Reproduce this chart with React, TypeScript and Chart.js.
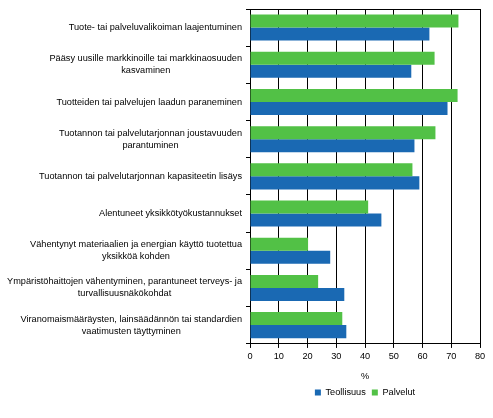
import React, { useEffect, useRef } from "react";
import { Chart, registerables } from "chart.js";

Chart.register(...registerables);

const categories: (string | string[])[] = [
  "Tuote- tai palveluvalikoiman laajentuminen",
  ["Pääsy uusille markkinoille tai markkinaosuuden", "kasvaminen"],
  "Tuotteiden tai palvelujen laadun paraneminen",
  ["Tuotannon tai palvelutarjonnan joustavuuden", "parantuminen"],
  "Tuotannon tai palvelutarjonnan kapasiteetin lisäys",
  "Alentuneet yksikkötyökustannukset",
  ["Vähentynyt materiaalien ja energian käyttö tuotettua", "yksikköä kohden"],
  ["Ympäristöhaittojen vähentyminen, parantuneet terveys- ja", "turvallisuusnäkökohdat"],
  ["Viranomaismääräysten, lainsäädännön tai standardien", "vaatimusten täyttyminen"],
];

const teollisuus = [62.4, 56.1, 68.7, 57.2, 58.9, 45.7, 27.9, 32.8, 33.5];
const palvelut = [72.5, 64.2, 72.2, 64.5, 56.5, 41.1, 20.2, 23.7, 32.1];

const seriesNames = ["Teollisuus", "Palvelut"];
const xTitle = "%";

const FF = '"Liberation Sans", Arial, sans-serif';
const FS = 9.2;
const LH = 12;

const gridPlugin = {
  id: "blackGrid",
  beforeDatasetsDraw(chart: any) {
    const x = chart.scales.x;
    const y = chart.scales.y;
    const a = chart.chartArea;
    const ctx = chart.ctx;
    ctx.save();
    ctx.strokeStyle = "#000000";
    ctx.lineWidth = 1;
    ctx.beginPath();
    x.ticks.forEach((t: any) => {
      const px = Math.round(x.getPixelForValue(t.value) - 0.5) + 0.5;
      ctx.moveTo(px, a.top);
      ctx.lineTo(px, a.bottom + 4);
    });
    for (let i = 0; i <= categories.length; i++) {
      const py = Math.round(y.getPixelForValue(i - 0.5) - 0.5) + 0.5;
      ctx.moveTo(a.left - 4, py);
      ctx.lineTo(a.left, py);
    }
    const top = Math.round(a.top) + 0.5;
    ctx.moveTo(a.left, top);
    ctx.lineTo(a.right + 0.5, top);
    const bot = Math.round(a.bottom - 0.5) + 0.5;
    ctx.moveTo(a.left, bot);
    ctx.lineTo(a.right + 0.5, bot);
    const lx = Math.round(a.left - 0.5) + 0.5;
    ctx.moveTo(lx, a.top);
    ctx.lineTo(lx, a.bottom);
    ctx.stroke();
    ctx.restore();
  },
  afterDraw(chart: any) {
    const y = chart.scales.y;
    const ctx = chart.ctx;
    ctx.save();
    ctx.font = `${FS}px ${FF}`;
    ctx.fillStyle = "#000";
    ctx.textAlign = "center";
    ctx.textBaseline = "middle";
    categories.forEach((lab, i) => {
      const lines = Array.isArray(lab) ? lab : [lab];
      const maxW = Math.max(...lines.map((l) => ctx.measureText(l).width));
      const right = chart.chartArea.left - 8;
      const cx = right - maxW / 2;
      const cy = y.getPixelForValue(i);
      lines.forEach((l, j) =>
        ctx.fillText(l, cx, cy + (j - (lines.length - 1) / 2) * LH)
      );
    });
    ctx.restore();
  },
};

export default function App() {
  const ref = useRef<HTMLCanvasElement>(null);
  useEffect(() => {
    if (!ref.current) return;
    const chart = new Chart(ref.current, {
      type: "bar",
      data: {
        labels: categories.map((c) => (Array.isArray(c) ? c.join(" ") : c)),
        datasets: [
          {
            label: seriesNames[1],
            data: palvelut,
            backgroundColor: "#52c146",
            borderWidth: 0,
            barPercentage: 1,
            categoryPercentage: 0.7,
          },
          {
            label: seriesNames[0],
            data: teollisuus,
            backgroundColor: "#1a69b3",
            borderWidth: 0,
            barPercentage: 1,
            categoryPercentage: 0.7,
          },
        ],
      },
      options: {
        indexAxis: "y",
        responsive: false,
        animation: false,
        layout: { padding: { left: 0, right: 13, top: 9, bottom: 11 } },
        scales: {
          x: {
            type: "linear",
            min: 0,
            max: 80,
            ticks: { stepSize: 10, color: "#000", font: { family: FF, size: FS }, padding: 3 },
            grid: { display: true, color: "#000000", lineWidth: 1, tickLength: 4, drawOnChartArea: true, drawTicks: true },
            border: { color: "#000000", width: 1 },
            title: {
              display: true,
              text: xTitle,
              color: "#000",
              font: { family: FF, size: FS },
              padding: { top: 6, bottom: 0 },
            },
          },
          y: {
            ticks: { display: false },
            grid: { drawOnChartArea: false, color: "#000000", tickLength: 4, offset: true },
            border: { color: "#000000", width: 1 },
            afterFit(scale: any) {
              scale.width = 250;
            },
          },
        },
        plugins: {
          legend: {
            position: "bottom",
            reverse: true,
            fullSize: false,
            labels: {
              boxWidth: 6,
              boxHeight: 6,
              padding: 6,
              color: "#000",
              font: { family: FF, size: FS },
            },
          },
          tooltip: { enabled: false },
        },
      },
      plugins: [gridPlugin],
    });
    return () => chart.destroy();
  }, []);
  return (
    <div style={{ position: "absolute", left: 0, top: 0, width: 493, height: 418, background: "#fff" }}>
      <canvas ref={ref} width={493} height={418} style={{ display: "block" }} />
    </div>
  );
}
